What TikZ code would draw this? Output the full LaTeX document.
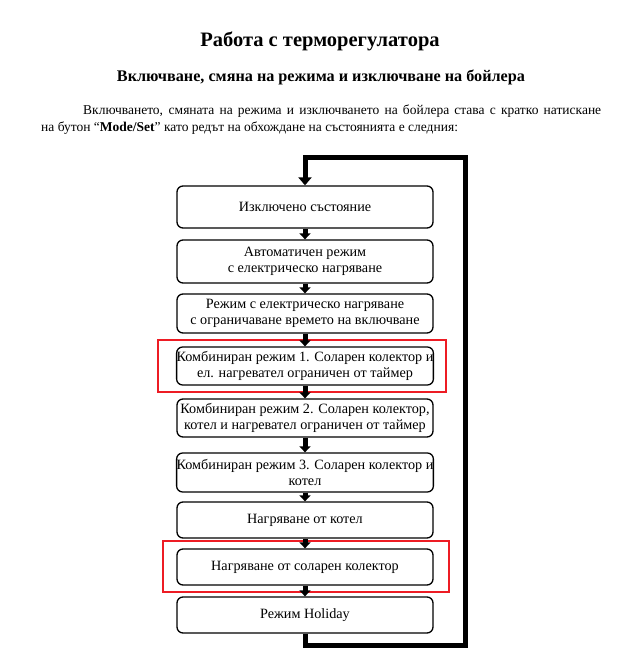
\documentclass[tikz,border=0pt]{standalone}
\usepackage{fontspec}
\setmainfont{Liberation Serif}
\usetikzlibrary{arrows.meta}
\definecolor{myred}{RGB}{237,28,36}
\tikzset{
  modebox/.style={draw, line width=1.3pt, rounded corners=6pt, minimum width=256pt,
    align=center, inner sep=0pt, font=\fontsize{14.2}{16.5}\selectfont},
  flowarrow/.style={line width=5pt, -{Triangle[width=11pt,length=6pt]}},
  loopline/.style={line width=5pt, -{Triangle[width=13pt,length=8pt]}},
  redframe/.style={draw=myred, line width=2.8pt}
}
\begin{document}
\begin{tikzpicture}[x=1pt,y=-1pt]
  \useasboundingbox (0,0) rectangle (631,665);
  \node[anchor=base, font=\bfseries\fontsize{20.5}{24}\selectfont] (title) at (320,46) {Работа с терморегулатора};
  \node[anchor=base, font=\bfseries\fontsize{16.2}{19}\selectfont] (subtitle) at (321,81) {Включване, смяна на режима и изключване на бойлера};
  \node[anchor=north west, inner sep=0pt, text width=560pt, align=justify,
    font=\fontsize{13.5}{17}\selectfont] (intro) at (41,105)
    {\hspace*{42pt}Включването, смяната на режима и изключването на бойлера става с кратко натискане\linebreak
     на бутон “\textbf{Mode/Set}” като редът на обхождане на състоянията е следния:};

  \draw[redframe] (158,340) rectangle (446,392);
  \draw[redframe] (163,541) rectangle (449,592);

  \node[modebox, minimum height=42pt] (b1) at (305,207) {Изключено състояние};
  \node[modebox, minimum height=43pt] (b2) at (305,261.5) {Автоматичен режим\\с електрическо нагряване};
  \node[modebox, minimum height=39pt] (b3) at (305,313.5) {Режим с електрическо нагряване\\с ограничаване времето на включване};
  \node[modebox, minimum height=38pt] (b4) at (305,366) {Комбиниран режим 1. Соларен колектор и\\ел. нагревател ограничен от таймер};
  \node[modebox, minimum height=38pt] (b5) at (305,418) {Комбиниран режим 2. Соларен колектор,\\котел и нагревател ограничен от таймер};
  \node[modebox, minimum height=39pt] (b6) at (305,472.5) {Комбиниран режим 3. Соларен колектор и\\котел};
  \node[modebox, minimum height=36pt] (b7) at (305,520) {Нагряване от котел};
  \node[modebox, minimum height=36pt] (b8) at (305,567) {Нагряване от соларен колектор};
  \node[modebox, minimum height=36pt] (b9) at (305,615) {Режим Holiday};

  \foreach \a/\b in {b1/b2,b2/b3,b3/b4,b4/b5,b5/b6,b6/b7,b7/b8,b8/b9}
    \draw[flowarrow] (\a) -- (\b);

  \coordinate (loopB) at (305,645);
  \coordinate (loopR) at (465,157);
  \draw[loopline] (b9.south) -- (loopB) -| (loopR) -| (b1.north);
\end{tikzpicture}
\end{document}
